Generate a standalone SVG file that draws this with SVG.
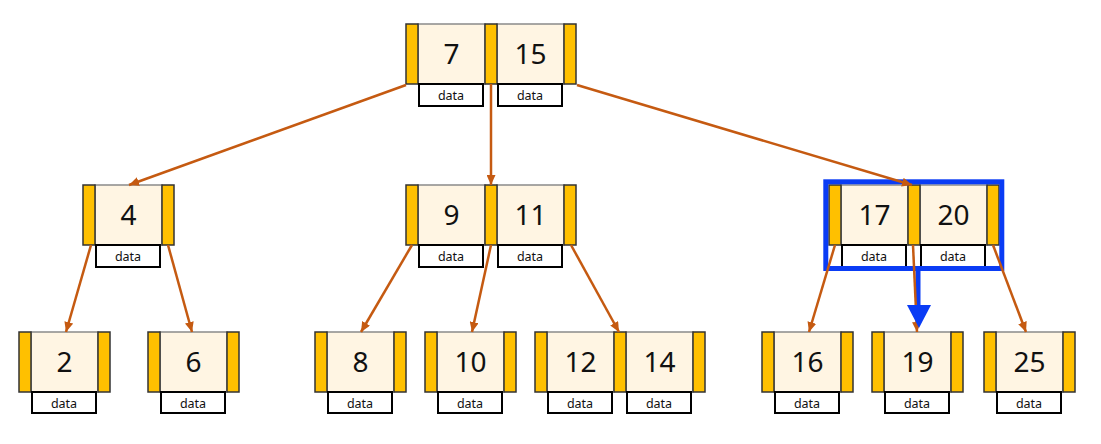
<svg xmlns="http://www.w3.org/2000/svg" width="1101" height="444" viewBox="0 0 1101 444">
<style>
.bar{fill:#FFC000;stroke:#333;stroke-width:1.5}
.cell{fill:#FFF5E3;stroke:#8a8a8a;stroke-width:1.5}
.data{fill:#fff;stroke:#000;stroke-width:2}
.key{font-family:"Noto Sans","DejaVu Sans",sans-serif;font-size:28px;fill:#111;text-anchor:middle}
.dt{font-family:"Noto Sans","DejaVu Sans",sans-serif;font-size:12.5px;fill:#111;text-anchor:middle}
.edge{stroke:#C55A11;stroke-width:2.5;fill:none;marker-end:url(#ah)}
</style>
<defs>
<marker id="ah" markerUnits="userSpaceOnUse" markerWidth="10" markerHeight="9" refX="10" refY="4.5" orient="auto">
<path d="M0,0 L10,4.5 L0,9 z" fill="#C55A11"/>
</marker>
</defs>
<rect width="1101" height="444" fill="#fff"/>

<g id="node-root">
<rect class="cell" x="418" y="24" width="67" height="60"/>
<rect class="cell" x="497" y="24" width="67" height="60"/>
<rect class="bar" x="406" y="24" width="12" height="60"/>
<rect class="bar" x="485" y="24" width="12" height="60"/>
<rect class="bar" x="564" y="24" width="12" height="60"/>
<text class="key" x="451.5" y="63.5">7</text>
<text class="key" x="530.5" y="63.5">15</text>
<rect class="data" x="419" y="84" width="64" height="22"/>
<rect class="data" x="498" y="84" width="64" height="22"/>
<text class="dt" x="451" y="100">data</text>
<text class="dt" x="530" y="100">data</text>
</g>

<g id="node-4">
<rect class="cell" x="95" y="185" width="67" height="60"/>
<rect class="bar" x="83" y="185" width="12" height="60"/>
<rect class="bar" x="162" y="185" width="12" height="60"/>
<text class="key" x="128.5" y="224.5">4</text>
<rect class="data" x="96" y="245" width="64" height="22"/>
<text class="dt" x="128" y="261">data</text>
</g>

<g id="node-9-11">
<rect class="cell" x="418" y="185" width="67" height="60"/>
<rect class="cell" x="497" y="185" width="67" height="60"/>
<rect class="bar" x="406" y="185" width="12" height="60"/>
<rect class="bar" x="485" y="185" width="12" height="60"/>
<rect class="bar" x="564" y="185" width="12" height="60"/>
<text class="key" x="451.5" y="224.5">9</text>
<text class="key" x="530.5" y="224.5">11</text>
<rect class="data" x="419" y="245" width="64" height="22"/>
<rect class="data" x="498" y="245" width="64" height="22"/>
<text class="dt" x="451" y="261">data</text>
<text class="dt" x="530" y="261">data</text>
</g>

<g id="node-17-20">
<rect class="cell" x="841" y="185" width="67" height="60"/>
<rect class="cell" x="920" y="185" width="67" height="60"/>
<rect class="bar" x="829" y="185" width="12" height="60"/>
<rect class="bar" x="908" y="185" width="12" height="60"/>
<rect class="bar" x="987" y="185" width="12" height="60"/>
<text class="key" x="874.5" y="224.5">17</text>
<text class="key" x="953.5" y="224.5">20</text>
<rect class="data" x="842" y="245" width="64" height="22"/>
<rect class="data" x="921" y="245" width="64" height="22"/>
<text class="dt" x="874" y="261">data</text>
<text class="dt" x="953" y="261">data</text>
</g>

<g id="leaf-2">
<rect class="cell" x="31" y="332" width="67" height="60"/>
<rect class="bar" x="19" y="332" width="12" height="60"/>
<rect class="bar" x="98" y="332" width="12" height="60"/>
<text class="key" x="64.5" y="371.5">2</text>
<rect class="data" x="32" y="392" width="64" height="21"/>
<text class="dt" x="64" y="408">data</text>
</g>

<g id="leaf-6">
<rect class="cell" x="160" y="332" width="67" height="60"/>
<rect class="bar" x="148" y="332" width="12" height="60"/>
<rect class="bar" x="227" y="332" width="12" height="60"/>
<text class="key" x="193.5" y="371.5">6</text>
<rect class="data" x="161" y="392" width="64" height="21"/>
<text class="dt" x="193" y="408">data</text>
</g>

<g id="leaf-8">
<rect class="cell" x="327" y="332" width="67" height="60"/>
<rect class="bar" x="315" y="332" width="12" height="60"/>
<rect class="bar" x="394" y="332" width="12" height="60"/>
<text class="key" x="360.5" y="371.5">8</text>
<rect class="data" x="328" y="392" width="64" height="21"/>
<text class="dt" x="360" y="408">data</text>
</g>

<g id="leaf-10">
<rect class="cell" x="437" y="332" width="67" height="60"/>
<rect class="bar" x="425" y="332" width="12" height="60"/>
<rect class="bar" x="504" y="332" width="12" height="60"/>
<text class="key" x="470.5" y="371.5">10</text>
<rect class="data" x="438" y="392" width="64" height="21"/>
<text class="dt" x="470" y="408">data</text>
</g>

<g id="leaf-12-14">
<rect class="cell" x="547" y="332" width="67" height="60"/>
<rect class="cell" x="626" y="332" width="67" height="60"/>
<rect class="bar" x="535" y="332" width="12" height="60"/>
<rect class="bar" x="614" y="332" width="12" height="60"/>
<rect class="bar" x="693" y="332" width="12" height="60"/>
<text class="key" x="580.5" y="371.5">12</text>
<text class="key" x="659.5" y="371.5">14</text>
<rect class="data" x="548" y="392" width="64" height="21"/>
<rect class="data" x="627" y="392" width="64" height="21"/>
<text class="dt" x="580" y="408">data</text>
<text class="dt" x="659" y="408">data</text>
</g>

<g id="leaf-16">
<rect class="cell" x="774" y="332" width="67" height="60"/>
<rect class="bar" x="762" y="332" width="12" height="60"/>
<rect class="bar" x="841" y="332" width="12" height="60"/>
<text class="key" x="807.5" y="371.5">16</text>
<rect class="data" x="775" y="392" width="64" height="21"/>
<text class="dt" x="807" y="408">data</text>
</g>

<g id="leaf-19">
<rect class="cell" x="884" y="332" width="67" height="60"/>
<rect class="bar" x="872" y="332" width="12" height="60"/>
<rect class="bar" x="951" y="332" width="12" height="60"/>
<text class="key" x="917.5" y="371.5">19</text>
<rect class="data" x="885" y="392" width="64" height="21"/>
<text class="dt" x="917" y="408">data</text>
</g>

<g id="leaf-25">
<rect class="cell" x="996" y="332" width="67" height="60"/>
<rect class="bar" x="984" y="332" width="12" height="60"/>
<rect class="bar" x="1063" y="332" width="12" height="60"/>
<text class="key" x="1029.5" y="371.5">25</text>
<rect class="data" x="997" y="392" width="64" height="21"/>
<text class="dt" x="1029" y="408">data</text>
</g>

<g id="highlight">
<rect x="825.8" y="181.8" width="176" height="86.7" fill="none" stroke="#0A3CF5" stroke-width="5"/>
<line x1="918" y1="268" x2="918" y2="307" stroke="#0A3CF5" stroke-width="5"/>
</g>

<g id="connectors">
<line class="edge" x1="406" y1="85" x2="129" y2="185"/>
<line class="edge" x1="491" y1="84" x2="491" y2="185"/>
<line class="edge" x1="577" y1="85" x2="912" y2="185"/>
<line class="edge" x1="91" y1="245" x2="66" y2="332"/>
<line class="edge" x1="168" y1="245" x2="192" y2="332"/>
<line class="edge" x1="412" y1="245" x2="361" y2="332"/>
<line class="edge" x1="491" y1="245" x2="472" y2="332"/>
<line class="edge" x1="571" y1="245" x2="619" y2="332"/>
<line class="edge" x1="835" y1="245" x2="809" y2="332"/>
<line class="edge" x1="913" y1="245" x2="917" y2="332"/>
<line class="edge" x1="993" y1="245" x2="1026" y2="332"/>
</g>

<g id="highlight-arrowhead">
<polygon points="907,305 931,305 919,328" fill="#0A3CF5"/>
</g>
</svg>
